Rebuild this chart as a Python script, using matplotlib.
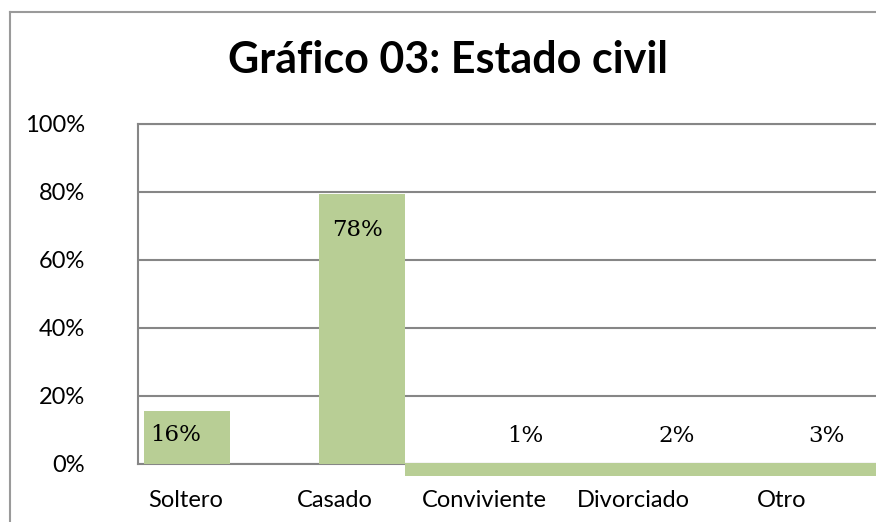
import matplotlib
matplotlib.use("Agg")
import matplotlib.pyplot as plt
from matplotlib.patches import Rectangle
from matplotlib.lines import Line2D
from matplotlib.ticker import FuncFormatter

# ---- data ----
categories = ["Soltero", "Casado", "Conviviente", "Divorciado", "Otro"]
bar_heights = [0.156, 0.795, 0.0, 0.0, 0.0]
label_values = [16, 78, 1, 2, 3]
yticks = [0.0, 0.2, 0.4, 0.6, 0.8, 1.0]
title = "Gráfico 03: Estado civil"

# ---- style / layout ----
bar_color = "#B8CE95"
grid_color = "#868686"
bar_width = 0.577
bar_offsets = [0.007, 0.178, 0.0, 0.0, 0.0]
label_offsets = [-0.067, 0.154, 0.275, 0.295, 0.295]
label_y = [0.085, 0.688, 0.082, 0.082, 0.082]

W, H = 876, 522
fig = plt.figure(figsize=(W / 100, H / 100), dpi=100)
fig.patch.set_facecolor("white")

ax = fig.add_axes([138 / W, (H - 464) / H, 1 - 138 / W, 340 / H])
ax.set_xlim((138 - 186) / 149, (876 - 186) / 149)
ax.set_ylim(0, 1)

xs = [i + o for i, o in enumerate(bar_offsets)]
ax.bar(xs, bar_heights, width=bar_width, color=bar_color, zorder=3)

# strip artefact below the axis, starting at the right edge of the Casado bar
strip_x0 = 1 + bar_offsets[1] + bar_width / 2
ax.add_patch(Rectangle((strip_x0, -0.035), 10, 0.037, facecolor=bar_color,
                       edgecolor="none", clip_on=False, zorder=5))

for i, v in enumerate(label_values):
    ax.text(i + label_offsets[i], label_y[i], f"{v}%", ha="center", va="center",
            family="DejaVu Serif", fontsize=16.5, color="black", zorder=6)

ax.set_yticks(yticks)
ax.yaxis.set_major_formatter(FuncFormatter(lambda v, p: f"{v*100:.0f}%"))
ax.set_xticks(range(len(categories)))
ax.set_xticklabels(categories)
ax.tick_params(axis="both", length=0, labelsize=17, labelcolor="black")
ax.tick_params(axis="y", pad=38)
ax.tick_params(axis="x", pad=19)
for lab in ax.get_xticklabels() + ax.get_yticklabels():
    lab.set_family("Lato")

ax.grid(axis="y", color=grid_color, linewidth=1.5, zorder=0)
ax.set_axisbelow(True)
for s in ["right"]:
    ax.spines[s].set_visible(False)
for s in ["left", "bottom", "top"]:
    ax.spines[s].set_color(grid_color)
    ax.spines[s].set_linewidth(1.5)

fig.text(448 / W, 1 - 60 / H, title, ha="center", va="center",
         family="Lato", fontweight="bold", fontsize=31, color="black")

# figure border (left and top)
fig.add_artist(Line2D([10 / W, 10 / W], [0, 1 - 12 / H], color="#9A9A9A", lw=1.5,
                      transform=fig.transFigure))
fig.add_artist(Line2D([10 / W, 1], [1 - 12 / H, 1 - 12 / H], color="#9A9A9A", lw=1.5,
                      transform=fig.transFigure))

fig.savefig("out.png", dpi=100)
